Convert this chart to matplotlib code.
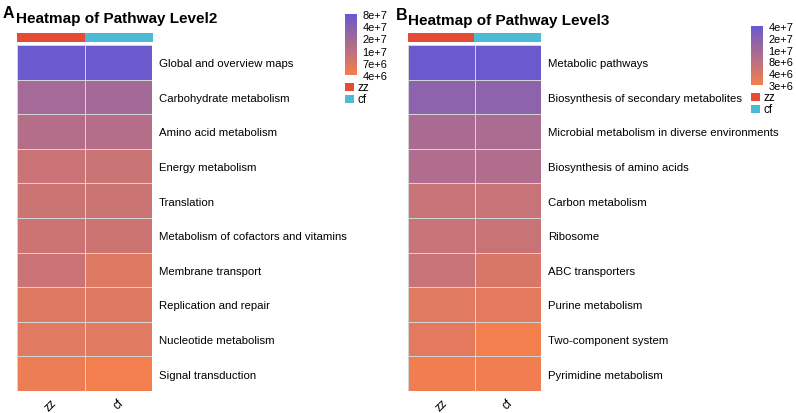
import numpy as np
import matplotlib
matplotlib.use("Agg")
import matplotlib.pyplot as plt
from matplotlib.colors import LinearSegmentedColormap, FuncNorm, ListedColormap

plt.rcParams['font.family'] = ['Liberation Sans', 'DejaVu Sans']

samples = ["zz", "cf"]
sample_colors = ["#E64B35", "#4DBBD5"]

l2_pathways = ["Global and overview maps", "Carbohydrate metabolism", "Amino acid metabolism",
               "Energy metabolism", "Translation", "Metabolism of cofactors and vitamins",
               "Membrane transport", "Replication and repair", "Nucleotide metabolism",
               "Signal transduction"]
l2_zz = [8.0e7, 1.87e7, 1.23e7, 8.6e6, 8.4e6, 8.3e6, 8.6e6, 6.2e6, 6.0e6, 4.7e6]
l2_cf = [8.0e7, 1.85e7, 1.22e7, 8.5e6, 8.4e6, 8.2e6, 6.2e6, 6.2e6, 6.0e6, 4.1e6]
l2_breaks = [4e6, 7e6, 1e7, 2e7, 4e7, 8e7]
l2_break_labels = ["4e+6", "7e+6", "1e+7", "2e+7", "4e+7", "8e+7"]

l3_pathways = ["Metabolic pathways", "Biosynthesis of secondary metabolites",
               "Microbial metabolism in diverse environments", "Biosynthesis of amino acids",
               "Carbon metabolism", "Ribosome", "ABC transporters", "Purine metabolism",
               "Two-component system", "Pyrimidine metabolism"]
l3_zz = [4.0e7, 1.68e7, 9.3e6, 8.9e6, 6.3e6, 6.1e6, 6.2e6, 3.7e6, 3.6e6, 3.1e6]
l3_cf = [4.0e7, 1.66e7, 9.2e6, 8.8e6, 6.2e6, 6.0e6, 4.1e6, 3.6e6, 3.0e6, 3.1e6]
l3_breaks = [3e6, 4e6, 8e6, 1e7, 2e7, 4e7]
l3_break_labels = ["3e+6", "4e+6", "8e+6", "1e+7", "2e+7", "4e+7"]

cmap = LinearSegmentedColormap.from_list("hm", ["#F47F4E", "#6A5ACD"])

W, H = 796, 414
fig = plt.figure(figsize=(W / 100, H / 100), dpi=100)


def fx(x):
    return x / W


def fy(y):
    return 1 - y / H


def make_norm(breaks):
    lb = np.log(np.array(breaks, dtype=float))
    pos = np.arange(len(breaks), dtype=float)

    def fwd(v):
        return np.interp(np.log(np.asarray(v, dtype=float)), lb, pos)

    def inv(p):
        return np.exp(np.interp(np.asarray(p, dtype=float), pos, lb))

    return FuncNorm((fwd, inv), vmin=breaks[0], vmax=breaks[-1])


def panel(letter, letter_xy, title, title_xy, pathways, zz, cf, breaks, labels,
          hx0, hx1, cb_box, leg_y):
    data = np.array([zz, cf]).T
    norm = make_norm(breaks)
    top, bot = 46, 392
    ax = fig.add_axes([fx(hx0), fy(bot), fx(hx1 - hx0), (bot - top) / H])
    ax.pcolormesh(data, cmap=cmap, norm=norm, edgecolors="#D4D4D4", linewidth=0.6)
    ax.set_xlim(0, 2)
    ax.set_ylim(len(pathways), 0)
    for s in ax.spines.values():
        s.set_visible(False)
    ax.set_yticks(np.arange(len(pathways)) + 0.5)
    ax.set_yticklabels(pathways, fontsize=8.2)
    ax.yaxis.tick_right()
    ax.set_xticks([0.5, 1.5])
    ax.set_xticklabels(samples, rotation=45, fontsize=8.5, ha="center", va="top")
    ax.tick_params(length=0, pad=5)
    ax.tick_params(axis="x", pad=4)

    # annotation bar
    axa = fig.add_axes([fx(hx0), fy(43), fx(hx1 - hx0), 9 / H])
    axa.imshow(np.array([[0, 1]]), cmap=ListedColormap(sample_colors), aspect="auto",
               extent=(0, 2, 0, 1))
    axa.set_axis_off()

    # title and letter
    fig.text(fx(title_xy[0]), fy(title_xy[1]), title, fontsize=11.0, fontweight="bold",
             ha="left", va="center")
    fig.text(fx(letter_xy[0]), fy(letter_xy[1]), letter, fontsize=11.5, fontweight="bold",
             ha="left", va="center")

    # colorbar
    cx0, cy0, cx1, cy1 = cb_box
    cax = fig.add_axes([fx(cx0), fy(cy1), fx(cx1 - cx0), (cy1 - cy0) / H])
    grad = np.linspace(0, 1, 256).reshape(-1, 1)
    cax.imshow(grad, cmap=cmap, aspect="auto", origin="lower", extent=(0, 1, 0, 5))
    cax.set_xlim(0, 1)
    cax.set_ylim(0, 5)
    for s in cax.spines.values():
        s.set_visible(False)
    cax.set_xticks([])
    cax.yaxis.tick_right()
    cax.set_yticks(np.arange(len(breaks)))
    cax.set_yticklabels(labels, fontsize=7.9)
    cax.tick_params(length=0, pad=4)

    # legend squares
    for i, (lab, col) in enumerate(zip(samples, sample_colors)):
        y = leg_y + i * 12
        sax = fig.add_axes([fx(cx0), fy(y + 8), fx(9), 8 / H])
        sax.set_facecolor(col)
        sax.set_xticks([])
        sax.set_yticks([])
        for s in sax.spines.values():
            s.set_visible(False)
        fig.text(fx(cx0 + 12), fy(y + 4), lab, fontsize=8.5, ha="left", va="center")


panel("A", (3, 13), "Heatmap of Pathway Level2", (16, 19), l2_pathways, l2_zz, l2_cf,
      l2_breaks, l2_break_labels, 17, 152, (345, 15, 357, 76), 84)
panel("B", (396, 15), "Heatmap of Pathway Level3", (408, 21), l3_pathways, l3_zz, l3_cf,
      l3_breaks, l3_break_labels, 408, 541, (751, 27, 763, 86), 94)

fig.savefig("out.png", dpi=100)
